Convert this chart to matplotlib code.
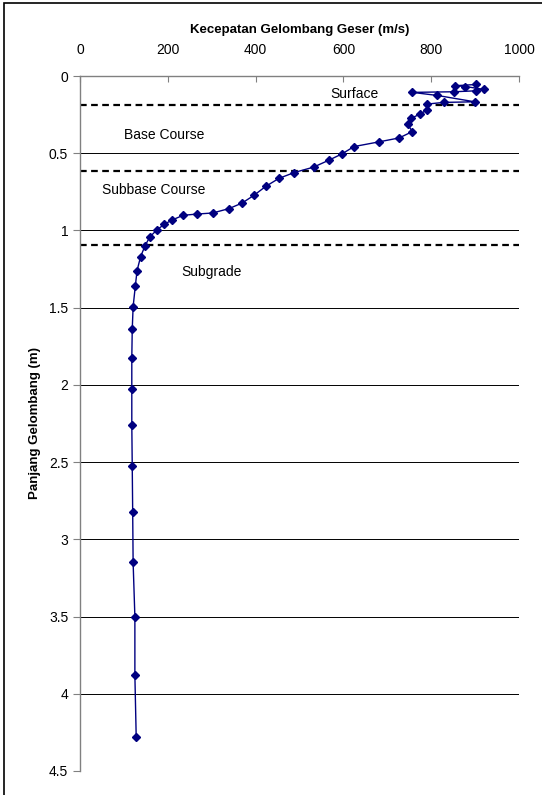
import matplotlib
matplotlib.use("Agg")
import matplotlib.pyplot as plt
from matplotlib.patches import Rectangle

plt.rcParams["font.family"] = ["Liberation Sans", "DejaVu Sans"]

# shear wave velocity (m/s) vs. wavelength depth (m)
velocity = [902, 854, 878, 920, 901, 852, 757, 814, 899, 828, 790, 790, 775, 754,
            746, 757, 727, 680, 624, 597, 567, 532, 488, 453, 423, 396, 369, 339,
            302, 266, 235, 210, 192, 175, 159, 148, 138, 130, 126, 121, 119, 118,
            118, 118, 119, 120, 121, 125, 125, 128]
depth = [0.055, 0.063, 0.068, 0.087, 0.096, 0.102, 0.106, 0.126, 0.167, 0.171,
         0.182, 0.220, 0.246, 0.274, 0.311, 0.360, 0.401, 0.427, 0.457, 0.504,
         0.545, 0.590, 0.625, 0.663, 0.715, 0.773, 0.823, 0.859, 0.887, 0.894,
         0.902, 0.932, 0.960, 0.997, 1.042, 1.100, 1.170, 1.260, 1.360, 1.494,
         1.640, 1.823, 2.027, 2.258, 2.528, 2.821, 3.150, 3.500, 3.880, 4.278]

layer_bounds = [0.19, 0.615, 1.095]
layer_names = ["Surface", "Base Course", "Subbase Course", "Subgrade"]
label_x = [626, 191, 167, 299]
label_y = [0.117, 0.382, 0.737, 1.268]

x_ticks = [0, 200, 400, 600, 800, 1000]
y_ticks = [0, 0.5, 1, 1.5, 2, 2.5, 3, 3.5, 4, 4.5]

fig = plt.figure(figsize=(5.42, 7.95), dpi=100)
ax = fig.add_axes([0.1476, 0.0302, 0.81, 0.8742])

for yv in y_ticks[1:]:
    ax.axhline(yv, color="black", lw=0.7, zorder=1)
for yb in layer_bounds:
    ax.axhline(yb, color="black", lw=1.6, ls=(0, (3, 2)), zorder=2)

ax.plot(velocity, depth, color="#000080", lw=1.0, marker="D", ms=4.5,
        markerfacecolor="#000080", markeredgecolor="#000080", zorder=3)

for name, lx, ly in zip(layer_names, label_x, label_y):
    ax.text(lx, ly, name, ha="center", va="center", fontsize=10)

ax.set_xlim(0, 1000)
ax.set_ylim(4.5, 0)
ax.set_xticks(x_ticks)
ax.set_yticks(y_ticks)
ax.set_yticklabels([f"{v:g}" for v in y_ticks])
ax.xaxis.tick_top()
ax.xaxis.set_label_position("top")
ax.tick_params(axis="x", direction="in", length=4, color="#808080",
               labelsize=10, pad=14)
ax.tick_params(axis="y", direction="out", length=5, color="#808080",
               labelsize=10)

ax.set_xlabel("Kecepatan Gelombang Geser (m/s)", fontweight="bold",
              fontsize=9.5, va="center")
ax.xaxis.set_label_coords(0.5, 1 + 46 / 695)
ax.set_ylabel("Panjang Gelombang (m)", fontweight="bold", fontsize=9.5,
              va="center")
ax.yaxis.set_label_coords(-45 / 439, 0.5)

for side in ["right", "bottom"]:
    ax.spines[side].set_visible(False)
for side in ["left", "top"]:
    ax.spines[side].set_color("#808080")
    ax.spines[side].set_linewidth(1.0)

fig.patches.append(Rectangle((4 / 542, -0.05), 1.2, 1 - 3 / 795 + 0.05,
                             transform=fig.transFigure, fill=False,
                             edgecolor="black", lw=1.2))

fig.savefig("out.png", dpi=100)
